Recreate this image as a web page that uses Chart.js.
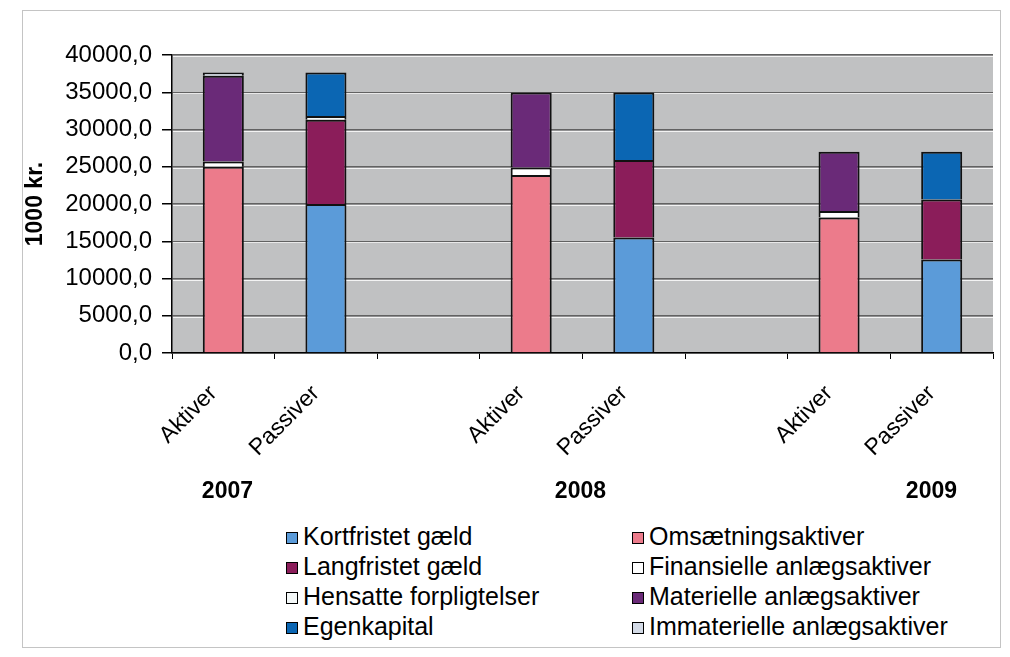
<!DOCTYPE html>
<html>
<head>
<meta charset="utf-8">
<script src="https://cdn.jsdelivr.net/npm/chart.js@4.4.0/dist/chart.umd.min.js"></script>
<style>
  body { margin: 0; background: #fff; font-family: "Liberation Sans", Arial, sans-serif; }
  #wrap { position: relative; width: 1010px; height: 657px; overflow: hidden; }
  #frame { position: absolute; left: 22px; top: 10px; width: 977px; height: 636px; border: 1px solid #c4c4c4; }
  #chart { position: absolute; left: 0; top: 0; }
  #legend { position: absolute; left: 0; top: 521px; width: 1010px; height: 130px; }
  .item { position: absolute; height: 30px; line-height: 30px; font-size: 25px; color: #000; white-space: nowrap; }
  .box { position: absolute; left: 0; top: 11px; width: 10px; height: 10px; border: 1px solid #000; }
  .lbl { position: absolute; left: 17px; top: 0; }
</style>
</head>
<body>
<div id="wrap">
  <div id="frame"></div>
  <canvas id="chart" width="1010" height="515"></canvas>
  <div id="legend"></div>
</div>
<script>
// categories on the x axis (blank slots separate the years)
const categories = ['Aktiver', 'Passiver', '', 'Aktiver', 'Passiver', '', 'Aktiver', 'Passiver'];
const years = ['2007', '2008', '2009'];

// values in 1000 kr.
const kortfristetGaeld   = [null, 20000, null, null, 15500, null, null, 12550];
const langfristetGaeld   = [null, 11300, null, null, 10400, null, null, 8070];
const hensatteForpligt   = [null, 500, null, null, null, null, null, null];
const egenkapital        = [null, 5850, null, null, 9050, null, null, 6380];
const omsaetningsaktiver = [25000, null, null, 23900, null, null, 18200, null];
const finansielleAnlaeg  = [700, null, null, 1000, null, null, 850, null];
const materielleAnlaeg   = [11500, null, null, 10050, null, null, 7950, null];
const immaterielleAnlaeg = [450, null, null, null, null, null, null, null];

// where the year labels sit, in category units
const yearTickAt = [0.04, 3.48, 6.9];

Chart.defaults.font.family = '"Liberation Sans", Arial, sans-serif';
Chart.defaults.color = '#000';

const series = [
    { label: 'Kortfristet gæld', data: kortfristetGaeld, color: '#5b9bd9' },
    { label: 'Langfristet gæld', data: langfristetGaeld, color: '#8b1d5a' },
    { label: 'Hensatte forpligtelser', data: hensatteForpligt, color: '#f4f8f8' },
    { label: 'Egenkapital', data: egenkapital, color: '#0b66b3' },
    { label: 'Omsætningsaktiver', data: omsaetningsaktiver, color: '#ec7b8b' },
    { label: 'Finansielle anlægsaktiver', data: finansielleAnlaeg, color: '#ffffff' },
    { label: 'Materielle anlægsaktiver', data: materielleAnlaeg, color: '#6a2a78' },
    { label: 'Immaterielle anlægsaktiver', data: immaterielleAnlaeg, color: '#d3dae6' }
];

const plotBackground = {
    id: 'plotBackground',
    beforeDraw(chart) {
        const { ctx, chartArea: a } = chart;
        ctx.save();
        ctx.fillStyle = '#c0c1c2';
        ctx.fillRect(a.left, a.top, a.right - a.left, a.bottom - a.top);
        ctx.restore();
    },
    // light edge under each gridline, like the embossed lines of the original
    beforeDatasetsDraw(chart) {
        const { ctx, chartArea: a, scales: { y } } = chart;
        ctx.save();
        ctx.strokeStyle = 'rgba(255,255,255,0.8)';
        ctx.lineWidth = 1;
        y.ticks.forEach(t => {
            const py = Math.round(y.getPixelForValue(t.value)) + 1.5;
            if (py < a.bottom - 1) {
                ctx.beginPath();
                ctx.moveTo(a.left + 1, py);
                ctx.lineTo(a.right, py);
                ctx.stroke();
            }
        });
        ctx.restore();
    }
};

new Chart(document.getElementById('chart'), {
    type: 'bar',
    data: {
        labels: categories,
        datasets: series.map(s => ({
            label: s.label,
            data: s.data,
            backgroundColor: s.color,
            borderColor: '#111',
            borderWidth: 2
        }))
    },
    options: {
        responsive: false,
        animation: false,
        devicePixelRatio: 1,
        layout: { padding: { top: 55, left: 22, right: 17, bottom: 0 } },
        plugins: {
            legend: { display: false },
            tooltip: { enabled: false }
        },
        datasets: { bar: { barPercentage: 0.4, categoryPercentage: 1 } },
        scales: {
            x: {
                stacked: true,
                grid: { drawOnChartArea: false, tickLength: 6, color: '#000', offset: true },
                border: { color: '#000', width: 1.5 },
                ticks: { autoSkip: false, maxRotation: 45, minRotation: 45, padding: 21, labelOffset: -10, font: { size: 23 } },
                afterFit(s) { s.height = 105; }
            },
            x2: {
                type: 'linear',
                position: 'bottom',
                offset: false,
                min: -0.5,
                max: 7.5,
                grid: { display: false, drawTicks: false },
                border: { display: false },
                afterBuildTicks(s) { s.ticks = yearTickAt.map(v => ({ value: v })); },
                ticks: {
                    maxRotation: 0,
                    padding: 20,
                    font: { size: 23, weight: 'bold' },
                    callback: (v, i) => years[i]
                },
                afterFit(s) { s.height = 57; }
            },
            y: {
                stacked: true,
                min: 0,
                max: 40000,
                ticks: {
                    stepSize: 5000,
                    padding: 10,
                    font: { size: 24 },
                    callback: v => v.toFixed(1).replace('.', ',')
                },
                grid: { color: '#626262', lineWidth: 1.5, tickLength: 10, tickColor: '#000' },
                border: { color: '#000', width: 1.5 },
                title: { display: true, text: '1000 kr.', font: { size: 23, weight: 'bold' }, padding: 0 },
                afterFit(s) { s.width = 150; }
            }
        }
    },
    plugins: [plotBackground]
});

// legend in two columns of four, as in the original
const legend = document.getElementById('legend');
const colLeft = [286, 632];
series.forEach((s, i) => {
    const item = document.createElement('div');
    item.className = 'item';
    item.style.left = colLeft[Math.floor(i / 4)] + 'px';
    item.style.top = (i % 4) * 30 + 'px';
    item.innerHTML = '<span class="box" style="background:' + s.color + '"></span><span class="lbl"></span>';
    item.querySelector('.lbl').textContent = s.label;
    legend.appendChild(item);
});
</script>
</body>
</html>
